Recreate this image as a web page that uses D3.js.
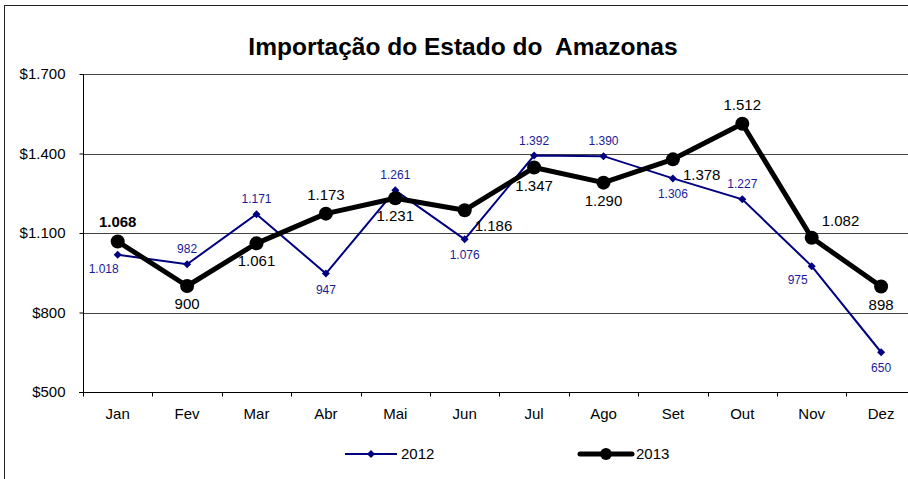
<!DOCTYPE html>
<html>
<head>
<meta charset="utf-8">
<script src="https://cdn.jsdelivr.net/npm/d3@7"></script>
<style>
  body { margin: 0; background: #fff; }
  svg { display: block; font-family: "Liberation Sans", Arial, sans-serif; }
</style>
</head>
<body>
<div id="chart"></div>
<script>
// Importação do Estado do Amazonas, 2012 x 2013

const months = ['Jan', 'Fev', 'Mar', 'Abr', 'Mai', 'Jun', 'Jul', 'Ago', 'Set', 'Out', 'Nov', 'Dez'];
const values2012 = [1018, 982, 1171, 947, 1261, 1076, 1392, 1390, 1306, 1227, 975, 650];
const values2013 = [1068, 900, 1061, 1173, 1231, 1186, 1347, 1290, 1378, 1512, 1082, 898];
const yTicks = [500, 800, 1100, 1400, 1700];

// where each data label sits relative to its point
const labelPos2012 = ['bl', 'a', 'a', 'b', 'a', 'b', 'a', 'a', 'b', 'a', 'bl', 'b'];
const labelPos2013 = ['a', 'b', 'b', 'a', 'b', 'br', 'b', 'b', 'br', 'a', 'ar', 'b'];

const W = 908, H = 479;
const plot = { left: 83, top: 74, bottom: 392, step: 69.4 };

const ptBR = d3.formatLocale({ decimal: ',', thousands: '.', grouping: [3], currency: ['$', ''] });
const fmtMoney = ptBR.format('$,');
const fmtNum = ptBR.format(',');

const svg = d3.select('#chart').append('svg')
    .attr('width', W)
    .attr('height', H);

// outer frame (cut by the window on right and bottom)
svg.append('rect')
    .attr('x', 4.5).attr('y', 5.5)
    .attr('width', W + 20).attr('height', H + 20)
    .attr('fill', 'none')
    .attr('stroke', '#222')
    .attr('stroke-width', 1);

svg.append('text')
    .attr('x', 463)
    .attr('y', 55)
    .attr('text-anchor', 'middle')
    .style('font-size', '24.5px')
    .style('font-weight', 'bold')
    .style('white-space', 'pre')
    .text('Importação do Estado do  Amazonas');

const x = d3.scaleBand()
    .domain(months)
    .range([plot.left, plot.left + plot.step * months.length]);

const y = d3.scaleLinear()
    .domain([500, 1700])
    .range([plot.bottom, plot.top]);

const cx = d => x(d) + x.bandwidth() / 2;

// gridlines
svg.append('g')
    .selectAll('line')
    .data(yTicks.slice(1))
    .enter()
    .append('line')
    .attr('x1', plot.left)
    .attr('x2', W)
    .attr('y1', d => Math.round(y(d)) + 0.5)
    .attr('y2', d => Math.round(y(d)) + 0.5)
    .attr('stroke', '#444')
    .attr('stroke-width', 1);

// y axis
const yAxis = svg.append('g')
    .attr('transform', `translate(${plot.left + 0.5},0)`)
    .call(d3.axisLeft(y).tickValues(yTicks).tickFormat(fmtMoney).tickSize(4).tickPadding(14))
    .attr('font-family', null)
    .attr('font-size', null);
yAxis.selectAll('text').style('font-size', '15px').attr('fill', '#000');
yAxis.selectAll('line, path').attr('stroke', '#000');
yAxis.select('.domain').attr('d', `M0,${plot.bottom + 0.5}V${plot.top}`);

// x axis: labels centred in band, ticks on band boundaries
const xAxis = svg.append('g')
    .attr('transform', `translate(0,${plot.bottom + 0.5})`)
    .call(d3.axisBottom(x).tickSize(0).tickPadding(16))
    .attr('font-family', null)
    .attr('font-size', null);
xAxis.selectAll('text').style('font-size', '15px').attr('fill', '#000');
xAxis.select('.domain').attr('d', `M${plot.left - 4},0H${W}`).attr('stroke', '#000');
xAxis.selectAll('.bound')
    .data(months)
    .enter()
    .append('line')
    .attr('class', 'bound')
    .attr('x1', d => Math.round(x(d)) + 0.5)
    .attr('x2', d => Math.round(x(d)) + 0.5)
    .attr('y1', 0)
    .attr('y2', 4)
    .attr('stroke', '#000');

const line = d3.line()
    .x((d, i) => cx(months[i]))
    .y(d => y(d));

// 2012 series
svg.append('path')
    .datum(values2012)
    .attr('d', line)
    .attr('fill', 'none')
    .attr('stroke', '#000080')
    .attr('stroke-width', 2);

const diamond = d3.symbol().type(d3.symbolSquare).size(32);
svg.append('g')
    .selectAll('path')
    .data(values2012)
    .enter()
    .append('path')
    .attr('d', diamond)
    .attr('transform', (d, i) => `translate(${cx(months[i])},${y(d)}) rotate(45)`)
    .attr('fill', '#000080');

// 2013 series
svg.append('path')
    .datum(values2013)
    .attr('d', line)
    .attr('fill', 'none')
    .attr('stroke', '#000')
    .attr('stroke-width', 5)
    .attr('stroke-linejoin', 'round');

svg.append('g')
    .selectAll('circle')
    .data(values2013)
    .enter()
    .append('circle')
    .attr('cx', (d, i) => cx(months[i]))
    .attr('cy', d => y(d))
    .attr('r', 7)
    .attr('fill', '#000');

// data labels
function labelOffset(pos, big) {
    const up = big ? -14 : -11;
    const down = big ? 23 : 20;
    switch (pos) {
        case 'a': return [0, up, 'middle'];
        case 'b': return [0, down, 'middle'];
        case 'bl': return [-14, down - 2, 'middle'];
        case 'br': return [10, down - 2, 'start'];
        case 'ar': return [10, up + 2, 'start'];
    }
}

svg.append('g')
    .selectAll('text')
    .data(values2012)
    .enter()
    .append('text')
    .each(function(d, i) {
        const [dx, dy, anchor] = labelOffset(labelPos2012[i], false);
        d3.select(this)
            .attr('x', cx(months[i]) + dx)
            .attr('y', y(d) + dy)
            .attr('text-anchor', anchor);
    })
    .style('font-size', '12px')
    .attr('fill', '#1a1a99')
    .text(d => fmtNum(d));

svg.append('g')
    .selectAll('text')
    .data(values2013)
    .enter()
    .append('text')
    .each(function(d, i) {
        const [dx, dy, anchor] = labelOffset(labelPos2013[i], true);
        d3.select(this)
            .attr('x', cx(months[i]) + dx)
            .attr('y', y(d) + dy)
            .attr('text-anchor', anchor);
    })
    .style('font-size', '15px')
    .style('font-weight', (d, i) => i === 0 ? 'bold' : 'normal')
    .attr('fill', '#000')
    .text(d => fmtNum(d));

// legend
const legend = [
    { name: '2012', x: 345, color: '#000080', width: 2, marker: 'diamond' },
    { name: '2013', x: 580, color: '#000', width: 5, marker: 'circle' }
];
const lg = svg.append('g')
    .selectAll('g')
    .data(legend)
    .enter()
    .append('g')
    .attr('transform', d => `translate(${d.x},454)`);

lg.append('line')
    .attr('x1', 0).attr('x2', 52)
    .attr('stroke', d => d.color)
    .attr('stroke-width', d => d.width)
    .attr('stroke-linecap', d => d.marker === 'circle' ? 'round' : 'butt');

lg.append('path')
    .attr('d', d => d.marker === 'diamond'
        ? diamond()
        : d3.symbol().type(d3.symbolCircle).size(110)())
    .attr('transform', d => d.marker === 'diamond' ? 'translate(26,0) rotate(45)' : 'translate(26,0)')
    .attr('fill', d => d.color);

lg.append('text')
    .attr('x', 56)
    .attr('y', 5)
    .style('font-size', '15px')
    .attr('fill', '#000')
    .text(d => d.name);
</script>
</body>
</html>
